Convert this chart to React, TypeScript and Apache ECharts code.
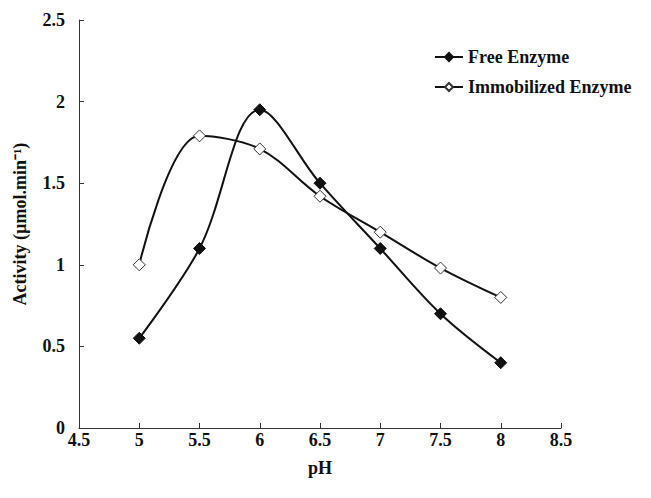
import React, { useEffect, useRef } from "react";
import * as echarts from "echarts";

const phValues = [5, 5.5, 6, 6.5, 7, 7.5, 8];
const freeEnzyme = [0.55, 1.1, 1.95, 1.5, 1.1, 0.7, 0.4];
const immobilizedEnzyme = [1.0, 1.79, 1.71, 1.42, 1.2, 0.98, 0.8];
const seriesNames = ["Free Enzyme", "Immobilized Enzyme"];

const FONT = "Liberation Serif";

export default function App() {
  const ref = useRef<HTMLDivElement>(null);
  useEffect(() => {
    if (!ref.current) return;
    const chart = echarts.init(ref.current, undefined, { renderer: "svg" });
    const toPairs = (ys: number[]) => phValues.map((x, i) => [x, ys[i]]);
    const txt = { fontFamily: FONT, fontWeight: "bold", fontSize: 18, color: "#111" };
    chart.setOption({
      animation: false,
      backgroundColor: "#ffffff",
      textStyle: { fontFamily: FONT },
      grid: { left: 71, right: 82, top: 12, bottom: 62, containLabel: false, outerBoundsMode: "none" },
      legend: {
        orient: "vertical",
        left: 421,
        top: 35,
        itemGap: 12,
        itemWidth: 28,
        itemHeight: 10,
        textStyle: { ...txt },
        data: seriesNames,
      },
      xAxis: {
        type: "value",
        min: 4.5,
        max: 8.5,
        interval: 0.5,
        name: "pH",
        nameLocation: "middle",
        nameGap: 31,
        nameTextStyle: { ...txt },
        axisLine: { lineStyle: { color: "#333", width: 1 } },
        axisTick: { inside: true, length: 5, lineStyle: { color: "#333" } },
        axisLabel: { ...txt, margin: 3 },
        splitLine: { show: false },
      },
      yAxis: {
        type: "value",
        min: 0,
        max: 2.5,
        interval: 0.5,
        name: "Activity (µmol.min⁻¹)",
        nameLocation: "middle",
        nameGap: 50,
        nameTextStyle: { ...txt },
        axisLine: { show: true, lineStyle: { color: "#333", width: 1 } },
        axisTick: { show: true, inside: true, length: 5, lineStyle: { color: "#333" } },
        axisLabel: { ...txt, margin: 14 },
        splitLine: { show: false },
      },
      series: [
        {
          name: seriesNames[0],
          type: "line",
          data: toPairs(freeEnzyme),
          smooth: 0.35,
          symbol: "diamond",
          symbolSize: 12,
          lineStyle: { color: "#111", width: 2 },
          itemStyle: { color: "#111", borderColor: "#111", borderWidth: 1 },
          z: 3,
        },
        {
          name: seriesNames[1],
          type: "line",
          data: toPairs(immobilizedEnzyme),
          smooth: 0.35,
          symbol: "diamond",
          symbolSize: 12,
          lineStyle: { color: "#111", width: 2 },
          itemStyle: { color: "#ffffff", borderColor: "#333", borderWidth: 1 },
          z: 4,
        },
      ],
    });
    return () => chart.dispose();
  }, []);
  return <div ref={ref} style={{ width: 635, height: 482 }} />;
}
